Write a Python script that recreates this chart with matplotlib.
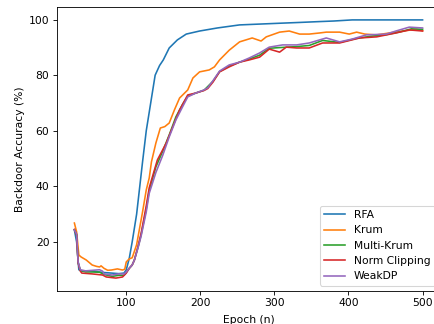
import matplotlib
matplotlib.use("Agg")
import matplotlib.pyplot as plt

# RFA
rfa_epoch = [30, 33, 36, 40, 50, 60, 70, 80, 90, 97, 100, 104, 108, 114, 122, 127, 133, 139,
             145, 150, 158, 169, 181, 199, 223, 253, 280, 307, 335, 361, 380, 405, 440, 470, 500]
rfa_acc = [24.3, 20, 10, 9.5, 9.5, 9.3, 9, 8.8, 8.6, 8.8, 10, 14, 20, 30, 48.8, 60, 70, 80,
           83.5, 85.5, 89.8, 92.7, 94.8, 95.9, 97, 98.1, 98.4, 98.7, 99, 99.3, 99.5, 99.9, 99.9, 99.9, 99.9]

# Krum
krum_epoch = [30, 33, 36, 39, 46, 54, 60, 64, 66, 70, 75, 80, 88, 95, 98, 100, 104, 108, 114, 122,
              127, 131, 134, 140, 146, 152, 158, 165, 172, 183, 190, 199, 212, 219, 226, 239, 253,
              270, 282, 289, 307, 320, 334, 347, 361, 370, 388, 401, 411, 422, 438, 455, 473, 492, 500]
krum_acc = [26.8, 23.6, 15.3, 14.6, 13.5, 11.7, 11.2, 11, 11.4, 10.5, 9.8, 9.9, 10.3, 9.9, 10.2,
            12.8, 13.9, 14.3, 19, 30.8, 38.7, 43, 48.8, 55.6, 61, 61.5, 62.8, 67.5, 71.8, 74.7, 79,
            81.2, 81.9, 83, 85.5, 89, 92, 93.4, 92.3, 93.8, 95.5, 95.9, 94.8, 94.8, 95.2, 95.5, 95.5,
            94.8, 95.5, 94.8, 94.5, 95.2, 95.9, 96.5, 96]

# Multi-Krum
mkrum_epoch = [30, 33, 35, 38, 45, 55, 64, 70, 81, 90, 97, 100, 104, 108, 111, 116, 120, 127, 131,
               140, 149, 158, 167, 176, 183, 194, 205, 217, 226, 239, 253, 266, 280, 293, 311, 330,
               347, 365, 388, 410, 430, 451, 470, 485, 500]
mkrum_acc = [24.4, 22.7, 12.6, 9.8, 9.2, 9.2, 9.1, 8.3, 7.6, 8, 8, 9, 10.5, 11.7, 13.5, 18.2, 22.5,
             31.8, 38.5, 47, 52.5, 58.5, 65, 69.5, 72.5, 73.6, 74.6, 77.8, 81.3, 83.3, 84.7, 85.8,
             87.2, 89.7, 90, 90.3, 90.7, 92.5, 91.8, 93.2, 94, 94.6, 95.6, 96.7, 96.5]

# Norm Clipping
norm_epoch = [30, 33, 35, 38, 40, 54, 68, 73, 86, 95, 100, 104, 108, 111, 116, 120, 127, 131, 142,
              154, 161, 172, 183, 194, 205, 210, 217, 226, 239, 253, 266, 280, 293, 307, 316, 330,
              347, 365, 388, 415, 438, 464, 482, 500]
norm_acc = [24.5, 22.5, 12.5, 9.5, 8.8, 8.5, 8.1, 7.4, 7, 7.4, 8.8, 10.5, 11.7, 13.5, 18.5, 23,
            33, 39.5, 49.5, 55.6, 60.3, 67.5, 72.9, 73.6, 74.5, 75.2, 77.5, 81.2, 83, 84.7, 85.5,
            86.5, 89.4, 88.3, 90.1, 89.8, 89.8, 91.6, 91.6, 93.4, 93.8, 95.2, 96.3, 95.9]

# WeakDP
weak_epoch = [30, 33, 35, 38, 45, 55, 64, 68, 70, 81, 90, 97, 100, 104, 108, 111, 116, 120, 127,
              131, 134, 140, 149, 158, 167, 176, 183, 194, 205, 210, 217, 226, 239, 253, 266, 280,
              293, 311, 330, 347, 361, 370, 388, 405, 424, 451, 464, 482, 500]
weak_acc = [24.3, 22.9, 12.8, 10, 9.6, 9.8, 10, 9.5, 8.5, 8.1, 8.5, 8.5, 9.2, 10.5, 11.7, 13.5, 18,
            22, 30.8, 37.5, 40, 45, 51, 57.8, 63.9, 68.6, 72.2, 73.6, 74.7, 75.5, 78, 81.5, 83.7,
            84.7, 86.2, 88, 90.1, 90.9, 90.9, 91.6, 92.7, 93.4, 92, 93, 94.5, 94.8, 95.9, 97.3, 97]

fig = plt.figure(figsize=(434 / 77, 324 / 77), dpi=77)
ax = fig.add_axes([0.1313, 0.1019, 0.8825, 0.8765])

ax.plot(rfa_epoch, rfa_acc, label="RFA")
ax.plot(krum_epoch, krum_acc, label="Krum")
ax.plot(mkrum_epoch, mkrum_acc, label="Multi-Krum")
ax.plot(norm_epoch, norm_acc, label="Norm Clipping")
ax.plot(weak_epoch, weak_acc, label="WeakDP")

ax.set_xlabel("Epoch (n)", labelpad=5.8)
ax.set_ylabel("Backdoor Accuracy (%)")
ax.legend(loc="lower right")

fig.savefig("out.png", dpi=77)
